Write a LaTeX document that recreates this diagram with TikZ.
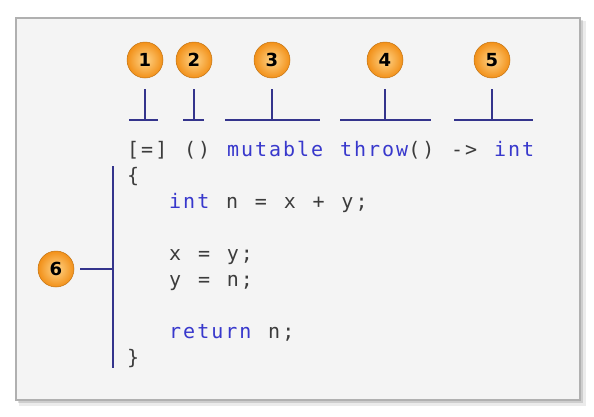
\documentclass[tikz,border=0pt]{standalone}
\usepackage{fontspec}
\newfontfamily\codefont[LetterSpace=10]{DejaVu Sans Mono}
\newfontfamily\badgefont{DejaVu Sans}
\definecolor{panelfill}{HTML}{F4F4F4}
\definecolor{panelline}{HTML}{B0B0B0}
\definecolor{brkblue}{HTML}{34348C}
\definecolor{kwblue}{HTML}{3838CC}
\definecolor{codegray}{HTML}{3C3C3C}
\definecolor{ballin}{HTML}{FFD58A}
\definecolor{ballout}{HTML}{F29018}
\newcommand{\kw}[1]{\textcolor{kwblue}{#1}}
\tikzset{
  badge/.style={circle, minimum size=36pt, inner sep=0pt, draw=ballout!80!black,
    line width=0.5pt, inner color=ballin, outer color=ballout,
    font=\badgefont\bfseries\fontsize{18}{18}\selectfont},
  brk/.style={draw=brkblue, line width=2pt},
  code/.style={anchor=base west, inner sep=0pt, text=codegray,
    font={\codefont\fontsize{20}{20}\selectfont\spaceskip=16.8pt}},
}
\begin{document}
\begin{tikzpicture}[x=1pt,y=-1pt]
\useasboundingbox (0,0) rectangle (594,416);
% panel
\fill[black, opacity=0.08] (19,21) rectangle (586,406);
\fill[black, opacity=0.12] (18,20) rectangle (583,403);
\draw[panelline, fill=panelfill, line width=1.2pt] (16,18) rectangle (580,400);
% numbered badges
\foreach \n/\x in {1/145,2/194,3/272,4/385,5/492}
  \node[badge] (c\n) at (\x,60) {\n};
\node[badge] (c6) at (56,269) {6};
% brackets
\coordinate (stem) at (0,89);
\coordinate (base) at (0,120);
\foreach \n/\l/\r in {1/129/158,2/183/204,3/225/320,4/340/431,5/454/533}
  \draw[brk] (\l,120) -- (\r,120) (c\n |- stem) -- (c\n |- base);
\coordinate (b6t) at (113,166);
\coordinate (b6b) at (113,368);
\draw[brk] (b6t) -- (b6b);
\draw[brk] ([xshift=6pt]c6.east) -- (c6.east -| b6t);
% code
\node[code] (l1) at (127,156) {[=] () \kw{mutable} \kw{throw}() -> \kw{int}};
\node[code] (l2) at (127,182) {\{};
\node[code] (l3) at (169,208) {\kw{int} n = x + y;};
\node[code] (l4) at (169,260) {x = y;};
\node[code] (l5) at (169,286) {y = n;};
\node[code] (l6) at (169,338) {\kw{return} n;};
\node[code] (l7) at (127,364) {\}};
\end{tikzpicture}
\end{document}
